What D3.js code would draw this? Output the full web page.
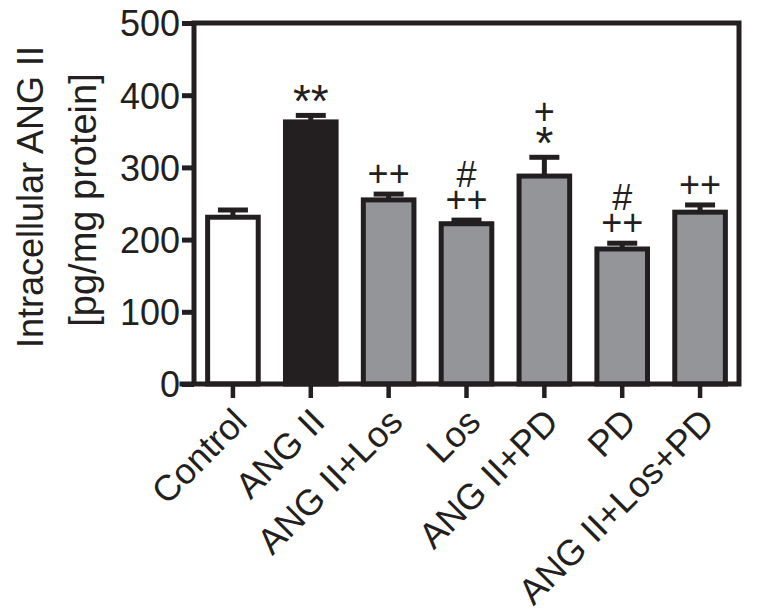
<!DOCTYPE html>
<html>
<head>
<meta charset="utf-8">
<script src="https://cdn.jsdelivr.net/npm/d3@7"></script>
<style>
body{margin:0;background:#fff;}
text{font-family:"Liberation Sans",Arial,Helvetica,sans-serif;fill:#231f20;}
</style>
</head>
<body>
<svg id="chart" width="762" height="614"></svg>
<script>
const categories = ["Control","ANG II","ANG II+Los","Los","ANG II+PD","PD","ANG II+Los+PD"];
const values = [231, 363, 255, 222, 288, 187, 238];
const errors = [10, 9, 8, 5, 26, 8, 10];
const fills = ["#ffffff","#231f20","#939598","#939598","#939598","#939598","#939598"];
const annotations = [[], ["**"], ["++"], ["#","++"], ["+","*"], ["#","++"], ["++"]];
const yTicks = [0,100,200,300,400,500];
const yTitle = ["Intracellular ANG II","[pg/mg protein]"];

(function(){
const dark = "#231f20";
const svg = d3.select("#chart");
const mLeft = 194, mRight = 739, mTop = 23, mBottom = 384;

const x = d3.scaleBand().domain(categories).range([mLeft, mRight]).paddingInner(0.35).paddingOuter(0.175);
const y = d3.scaleLinear().domain([0, 500]).range([mBottom, mTop]);

// bars
svg.append("g").selectAll("rect").data(categories).join("rect")
  .attr("x", d => x(d))
  .attr("width", x.bandwidth())
  .attr("y", (d,i) => y(values[i]))
  .attr("height", (d,i) => y(0) - y(values[i]))
  .attr("fill", (d,i) => fills[i])
  .attr("stroke", dark)
  .attr("stroke-width", 5);

// error bars
const eg = svg.append("g").attr("stroke", dark).attr("stroke-width", 5);
categories.forEach((c,i) => {
  const cx = x(c) + x.bandwidth()/2;
  eg.append("line").attr("x1", cx).attr("x2", cx).attr("y1", y(values[i])).attr("y2", y(values[i]+errors[i]));
  eg.append("line").attr("x1", cx-15).attr("x2", cx+15).attr("y1", y(values[i]+errors[i])).attr("y2", y(values[i]+errors[i]));
});

// annotations (one text per bar, lines stacked upward)
const ag = svg.append("g");
categories.forEach((c,i) => {
  const lines = annotations[i];
  if (!lines.length) return;
  const cx = x(c) + x.bandwidth()/2;
  const base = y(values[i]+errors[i]);
  const t = ag.append("text").attr("text-anchor","middle");
  const n = lines.length;
  lines.forEach((s,k) => {
    const fromBottom = n - 1 - k;
    const star = s.includes("*");
    t.append("tspan").attr("x", cx)
      .attr("y", base - (star ? -2 : 8) - fromBottom*25)
      .attr("font-size", star ? 46 : 36)
      .text(s);
  });
});

// y axis
const yAxis = d3.axisLeft(y).tickValues(yTicks).tickSize(12).tickPadding(2);
const gy = svg.append("g").attr("transform", `translate(${mLeft},0)`).call(yAxis);
gy.select(".domain").remove();
gy.selectAll(".tick line").attr("stroke", dark).attr("stroke-width", 5);
gy.selectAll(".tick text").attr("font-size", 36).attr("fill", dark).attr("font-family","Liberation Sans, Arial, sans-serif").attr("dy","0.36em");

// x axis
const xAxis = d3.axisBottom(x).tickSize(14).tickFormat("");
const gx = svg.append("g").attr("transform", `translate(0,${mBottom})`).call(xAxis);
gx.select(".domain").remove();
gx.selectAll(".tick line").attr("stroke", dark).attr("stroke-width", 4.5);

// frame
svg.append("path")
  .attr("d", `M${mLeft},${mBottom}V${mTop}H${mRight}V${mBottom}H${mLeft-12}`)
  .attr("fill","none").attr("stroke", dark).attr("stroke-width", 5).attr("stroke-linecap","square");

// x labels
svg.append("g").selectAll("text").data(categories).join("text")
  .attr("transform", d => `translate(${x(d)+x.bandwidth()/2+16},${mBottom+40}) rotate(-45)`)
  .attr("text-anchor","end")
  .attr("font-size", 36)
  .text(d => d);

// y title
svg.append("text").attr("transform", `translate(43,197) rotate(-90)`)
  .attr("text-anchor","middle").attr("font-size", 36).text(yTitle[0]);
svg.append("text").attr("transform", `translate(96,200) rotate(-90)`)
  .attr("text-anchor","middle").attr("font-size", 38).text(yTitle[1]);
})();
</script>
</body>
</html>
